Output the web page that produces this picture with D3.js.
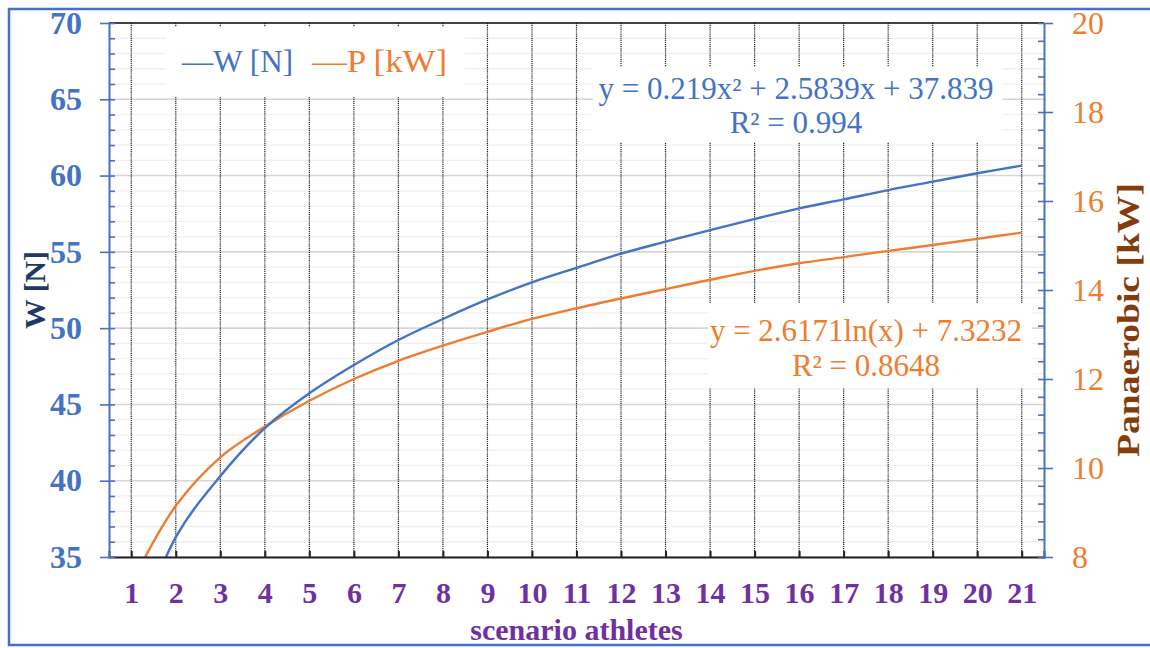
<!DOCTYPE html>
<html>
<head>
<meta charset="utf-8">
<script src="https://cdn.jsdelivr.net/npm/d3@7"></script>
<style>
  body { margin: 0; background: #fff; }
  svg { display: block; }
</style>
</head>
<body>
<div id="chart"></div>
<script>
// data
const athletes = [1, 2, 3, 4, 5, 6, 7, 8, 9, 10, 11, 12, 13, 14, 15, 16, 17, 18, 19, 20, 21];
const weightN = [29.2, 36.3, 40.3, 43.45, 45.73, 47.58, 49.22, 50.6, 51.88, 53.0, 53.95, 54.88, 55.67, 56.43, 57.15, 57.85, 58.44, 59.05, 59.6, 60.15, 60.65];
const powerKW = [7.4, 9.15, 10.24, 10.93, 11.51, 12.0, 12.41, 12.75, 13.06, 13.35, 13.59, 13.81, 14.02, 14.23, 14.43, 14.6, 14.74, 14.88, 15.01, 15.15, 15.29];
const leftTicks = [35, 40, 45, 50, 55, 60, 65, 70];
const rightTicks = [8, 10, 12, 14, 16, 18, 20];
const seriesNames = ["W [N]", "P [kW]"];
const wFit = ["y = 0.219x\u00B2 + 2.5839x + 37.839", "R\u00B2 = 0.994"];
const pFit = ["y = 2.6171ln(x) + 7.3232", "R\u00B2 = 0.8648"];

const blue = "#4472C4", orange = "#ED7D31", purple = "#7030A0";
const font = "'Liberation Serif', 'Times New Roman', serif";

const width = 1150, height = 648;
const m = { left: 109, right: 1044, top: 23, bottom: 557 };

const svg = d3.select("#chart").append("svg")
    .attr("width", width)
    .attr("height", height)
    .style("font-family", font);

const x = d3.scalePoint().domain(athletes).range([m.left, m.right]).padding(0.5);
const yL = d3.scaleLinear().domain([35, 70]).range([m.bottom, m.top]);
const yR = d3.scaleLinear().domain([8, 20]).range([m.bottom, m.top]);

// outer frame
svg.append("rect")
    .attr("x", 9).attr("y", 9)
    .attr("width", 1160).attr("height", 636)
    .attr("fill", "none")
    .attr("stroke", blue)
    .attr("stroke-width", 2.5);

// horizontal grid (minor then major)
svg.append("g").selectAll("line")
    .data(yL.ticks(35))
    .join("line")
    .attr("x1", m.left).attr("x2", m.right)
    .attr("y1", d => yL(d)).attr("y2", d => yL(d))
    .attr("stroke", d => d % 5 === 0 ? "#d6d6d6" : "#efefef")
    .attr("stroke-width", d => d % 5 === 0 ? 1.6 : 1.3);

// vertical dotted grid
svg.append("g").selectAll("line")
    .data(athletes)
    .join("line")
    .attr("x1", d => x(d)).attr("x2", d => x(d))
    .attr("y1", m.top).attr("y2", m.bottom)
    .attr("stroke", "#222")
    .attr("stroke-width", 1.2)
    .attr("stroke-dasharray", "1.2,0.9");

// white label boxes covering the grid
const boxes = [
    { x: 166, y: 27, w: 299, h: 70 },
    { x: 593, y: 67, w: 409, h: 75 },
    { x: 708, y: 303, w: 324, h: 85 }
];
svg.append("g").selectAll("rect")
    .data(boxes)
    .join("rect")
    .attr("x", d => d.x).attr("y", d => d.y)
    .attr("width", d => d.w).attr("height", d => d.h)
    .attr("fill", "#fff");

// top border of plot
svg.append("line")
    .attr("x1", m.left).attr("x2", m.right)
    .attr("y1", m.top).attr("y2", m.top)
    .attr("stroke", "#111").attr("stroke-width", 1.5);

// curves
svg.append("clipPath").attr("id", "plot-clip")
    .append("rect")
    .attr("x", m.left).attr("y", m.top)
    .attr("width", m.right - m.left).attr("height", m.bottom - m.top);

const lineW = d3.line()
    .x((d, i) => x(athletes[i]))
    .y(d => yL(d))
    .curve(d3.curveCatmullRom.alpha(0.5));

const lineP = d3.line()
    .x((d, i) => x(athletes[i]))
    .y(d => yR(d))
    .curve(d3.curveCatmullRom.alpha(0.5));

svg.append("path")
    .datum(powerKW)
    .attr("clip-path", "url(#plot-clip)")
    .attr("d", lineP)
    .attr("fill", "none")
    .attr("stroke", orange)
    .attr("stroke-width", 2.4);

svg.append("path")
    .datum(weightN)
    .attr("clip-path", "url(#plot-clip)")
    .attr("d", lineW)
    .attr("fill", "none")
    .attr("stroke", blue)
    .attr("stroke-width", 2.4);

// bottom axis
const xAxis = svg.append("g")
    .attr("transform", `translate(0,${m.bottom})`)
    .call(d3.axisBottom(x).tickSizeInner(-6).tickSizeOuter(-6).tickPadding(25));
xAxis.select(".domain").attr("stroke", "#222").attr("stroke-width", 2);
xAxis.selectAll(".tick line").attr("stroke", "#222").attr("stroke-width", 2);
xAxis.selectAll("text")
    .attr("fill", purple)
    .attr("font-family", font)
    .attr("font-size", 30)
    .attr("font-weight", "bold");

// left axis
const leftMinor = svg.append("g")
    .attr("transform", `translate(${m.left},0)`)
    .call(d3.axisRight(yL).ticks(35).tickSize(6).tickFormat(""));
leftMinor.select(".domain").remove();
leftMinor.selectAll(".tick line").attr("stroke", blue).attr("stroke-width", 1.6);

const leftAxis = svg.append("g")
    .attr("transform", `translate(${m.left},0)`)
    .call(d3.axisLeft(yL).tickValues(leftTicks).tickSizeInner(9).tickSizeOuter(0).tickPadding(18));
leftAxis.select(".domain").attr("stroke", blue).attr("stroke-width", 2);
leftAxis.selectAll(".tick line").attr("stroke", blue).attr("stroke-width", 1.6);
leftAxis.selectAll("text")
    .attr("fill", blue)
    .attr("font-family", font)
    .attr("font-size", 32)
    .attr("font-weight", "bold");

// right axis
const rightMinor = svg.append("g")
    .attr("transform", `translate(${m.right},0)`)
    .call(d3.axisLeft(yR).tickValues(d3.range(8, 20.01, 0.4)).tickSize(6).tickFormat(""));
rightMinor.select(".domain").remove();
rightMinor.selectAll(".tick line").attr("stroke", blue).attr("stroke-width", 1.6);

const rightAxis = svg.append("g")
    .attr("transform", `translate(${m.right},0)`)
    .call(d3.axisRight(yR).tickValues(rightTicks).tickSizeInner(9).tickSizeOuter(0).tickPadding(19));
rightAxis.select(".domain").attr("stroke", blue).attr("stroke-width", 2);
rightAxis.selectAll(".tick line").attr("stroke", blue).attr("stroke-width", 1.6);
rightAxis.selectAll("text")
    .attr("fill", orange)
    .attr("font-family", font)
    .attr("font-size", 32);

// axis titles
svg.append("text")
    .attr("transform", `translate(45,${(m.top + m.bottom) / 2}) rotate(-90)`)
    .attr("text-anchor", "middle")
    .attr("font-size", 30)
    .attr("font-weight", "bold")
    .attr("fill", "#1F3864")
    .attr("textLength", 78)
    .attr("lengthAdjust", "spacingAndGlyphs")
    .text("W [N]");

svg.append("text")
    .attr("transform", "translate(1139,320) rotate(-90)")
    .attr("text-anchor", "middle")
    .attr("font-size", 31)
    .attr("font-weight", "bold")
    .attr("fill", "#843C0C")
    .attr("textLength", 274)
    .attr("lengthAdjust", "spacingAndGlyphs")
    .text("Panaerobic [kW]");

svg.append("text")
    .attr("x", (m.left + m.right) / 2)
    .attr("y", 640)
    .attr("text-anchor", "middle")
    .attr("font-size", 30)
    .attr("font-weight", "bold")
    .attr("fill", purple)
    .text("scenario athletes");

// legend
const legend = svg.append("g");
legend.selectAll("text")
    .data(seriesNames)
    .join("text")
    .attr("x", (d, i) => i === 0 ? 182 : 312)
    .attr("y", 72)
    .attr("font-size", 31)
    .attr("fill", (d, i) => i === 0 ? blue : orange)
    .attr("textLength", (d, i) => i === 0 ? 111 : 135)
    .attr("lengthAdjust", "spacingAndGlyphs")
    .text(d => "\u2014" + d);

// trendline labels
svg.append("g").selectAll("text")
    .data(wFit)
    .join("text")
    .attr("x", 796)
    .attr("y", (d, i) => i === 0 ? 99 : 133)
    .attr("text-anchor", "middle")
    .attr("font-size", 31)
    .attr("fill", blue)
    .text(d => d);

svg.append("g").selectAll("text")
    .data(pFit)
    .join("text")
    .attr("x", 866)
    .attr("y", (d, i) => i === 0 ? 341 : 376)
    .attr("text-anchor", "middle")
    .attr("font-size", 31)
    .attr("fill", orange)
    .text(d => d);
</script>
</body>
</html>
